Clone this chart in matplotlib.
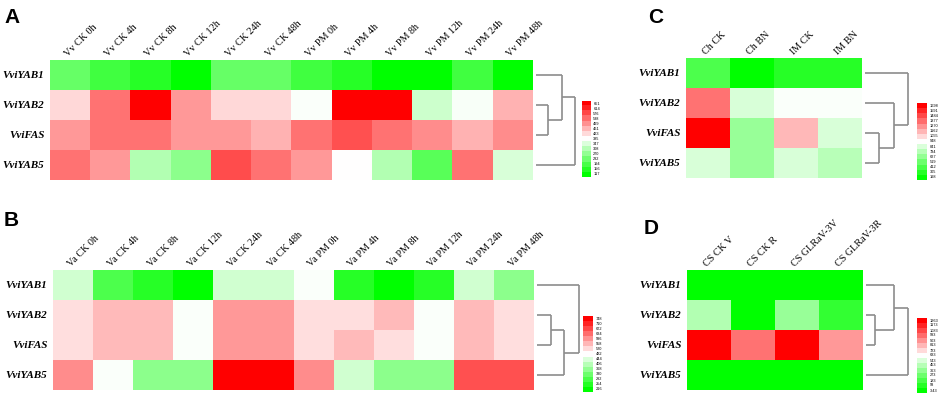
import numpy as np
import matplotlib
matplotlib.use('Agg')
import matplotlib.pyplot as plt
from matplotlib.colors import LinearSegmentedColormap, Normalize
import matplotlib.transforms as mtransforms

W, H = 941, 395

genes = ['VviYAB1', 'VviYAB2', 'VviFAS', 'VviYAB5']

# ---------------- Panel A ----------------
a_cols = ['Vv CK 0h', 'Vv CK 4h', 'Vv CK 8h', 'Vv CK 12h', 'Vv CK 24h', 'Vv CK 48h',
          'Vv PM 0h', 'Vv PM 4h', 'Vv PM 8h', 'Vv PM 12h', 'Vv PM 24h', 'Vv PM 48h']
a_yab1 = [224, 184, 157, 117, 224, 224, 184, 157, 117, 117, 184, 117]
a_yab2 = [424, 531, 651, 491, 424, 424, 379, 651, 651, 331, 376, 464]
a_fas  = [491, 531, 531, 491, 491, 464, 531, 566, 531, 504, 464, 504]
a_yab5 = [531, 491, 304, 264, 571, 531, 491, 384, 304, 210, 531, 344]
a_ticks = ['651', '614', '576', '538', '499', '461', '423', '385', '347', '308',
           '270', '232', '194', '156', '117']
a_link = [(1, 2, 12), (0, 4, 26), (3, 5, 39)]

# ---------------- Panel B ----------------
b_cols = ['Va CK 0h', 'Va CK 4h', 'Va CK 8h', 'Va CK 12h', 'Va CK 24h', 'Va CK 48h',
          'Va PM 0h', 'Va PM 4h', 'Va PM 8h', 'Va PM 12h', 'Va PM 24h', 'Va PM 48h']
b_yab1 = [434, 296, 256, 216, 434, 434, 477, 256, 216, 256, 434, 362]
b_yab2 = [517, 554, 554, 477, 588, 588, 517, 517, 554, 477, 554, 517]
b_fas  = [517, 554, 554, 477, 588, 588, 517, 554, 517, 477, 554, 517]
b_yab5 = [602, 477, 362, 362, 748, 748, 602, 434, 362, 362, 663, 663]
b_ticks = ['748', '710', '672', '634', '596', '558', '520', '482', '444', '406',
           '368', '330', '292', '254', '216']
b_link = [(1, 2, 14), (4, 3, 27), (0, 5, 42)]

# ---------------- Panel C ----------------
c_cols = ['Ch CK', 'Ch BN', 'IM CK', 'IM BN']
c_yab1 = [423, 198, 311, 311]
c_yab2 = [1360, 835, 933, 933]
c_fas  = [1698, 648, 1158, 835]
c_yab5 = [835, 648, 835, 738]
c_ticks = ['1698', '1591', '1484', '1377', '1270', '1162', '1055', '948', '841',
           '734', '627', '519', '412', '305', '198']
c_link = [(2, 3, 14), (1, 4, 29), (0, 5, 43)]

# ---------------- Panel D ----------------
d_cols = ['CS CK V', 'CS CK R', 'CS GLRaV-3V', 'CS GLRaV-3R']
d_yab1 = [3.43, 3.43, 3.43, 3.43]
d_yab2 = [444, 3.43, 381, 129]
d_fas  = [1263, 980, 1263, 885]
d_yab5 = [3.43, 3.43, 3.43, 3.43]
d_ticks = ['1263', '1173', '1083', '993', '903', '813', '723', '633', '543',
           '453', '363', '273', '183', '93', '3.43']
d_link = [(1, 2, 9), (0, 4, 28), (3, 5, 42)]

cmap = LinearSegmentedColormap.from_list('gwr', ['#00ff00', '#ffffff', '#ff0000'])

fig = plt.figure(figsize=(W / 100, H / 100), dpi=100)


def px_axes(x0, y0, x1, y1):
    return fig.add_axes([x0 / W, 1 - y1 / H, (x1 - x0) / W, (y1 - y0) / H])


def panel(rows, cols, ticks, link, hm, dstart, cb, letter, letter_xy):
    data = np.array(rows, dtype=float)
    vmin = float(ticks[-1]); vmax = float(ticks[0])
    norm = Normalize(vmin=vmin, vmax=vmax)
    ax = px_axes(*hm)
    nr, nc = data.shape
    ax.pcolormesh(np.arange(nc + 1), np.arange(nr + 1), data, cmap=cmap, norm=norm,
                  shading='flat', edgecolors='none', antialiased=False)
    ax.set_xlim(0, nc)
    ax.set_ylim(nr, 0)
    for s in ax.spines.values():
        s.set_visible(False)
    ax.set_xticks([])
    ax.set_yticks(np.arange(nr) + 0.5)
    ax.set_yticklabels(genes, fontfamily='Liberation Serif', fontstyle='italic',
                       fontweight='bold', fontsize=8)
    ax.tick_params(axis='y', length=0, pad=4)
    off = mtransforms.offset_copy(ax.transData, fig=fig, x=-1, y=2, units='dots')
    for j, c in enumerate(cols):
        ax.text(j + 0.5, 0, c, transform=off, rotation=45, rotation_mode='anchor',
                ha='left', va='bottom', fontfamily='Liberation Serif', fontsize=7.3)
    # dendrogram
    maxh = max(l[2] for l in link)
    dax = px_axes(dstart, hm[1], dstart + maxh, hm[3])
    dax.set_xlim(0, maxh)
    dax.set_ylim(nr, 0)
    dax.axis('off')
    nodes = {i: (0.0, i + 0.5) for i in range(nr)}
    nid = nr
    for a, b, h in link:
        xa, ya = nodes[a]
        xb, yb = nodes[b]
        kw = dict(color='#8c8c8c', lw=1.2, clip_on=False, solid_capstyle='butt')
        dax.plot([xa, h], [ya, ya], **kw)
        dax.plot([xb, h], [yb, yb], **kw)
        dax.plot([h, h], [ya, yb], **kw)
        nodes[nid] = (h, (ya + yb) / 2)
        nid += 1
    # colorbar
    cax = px_axes(*cb)
    vals = np.array([float(t) for t in ticks])[:, None]
    cax.imshow(vals, cmap=cmap, norm=norm, aspect='auto', interpolation='nearest')
    cax.axis('off')
    n = len(ticks)
    for i, t in enumerate(ticks):
        cax.text(1.25, 1 - (i + 0.5) / n, t, transform=cax.transAxes, fontsize=2.8,
                 va='center', ha='left', fontfamily='Liberation Sans')
    fig.text(letter_xy[0] / W, 1 - letter_xy[1] / H, letter, fontsize=15,
             fontweight='bold', fontfamily='Liberation Sans', va='top', ha='left')


panel([a_yab1, a_yab2, a_fas, a_yab5], a_cols, a_ticks, a_link,
      (50, 60, 533, 180), 536, (582, 101, 591, 177), 'A', (4, 8))
panel([b_yab1, b_yab2, b_fas, b_yab5], b_cols, b_ticks, b_link,
      (53, 270, 534, 390), 537, (583, 316, 593, 392), 'B', (4, 211))
panel([c_yab1, c_yab2, c_fas, c_yab5], c_cols, c_ticks, c_link,
      (686, 58, 862, 178), 865, (917, 103, 927, 180), 'C', (648, 8))
panel([d_yab1, d_yab2, d_fas, d_yab5], d_cols, d_ticks, d_link,
      (687, 270, 863, 390), 866, (917, 318, 927, 393), 'D', (644, 219))

fig.savefig('out.png', dpi=100)
